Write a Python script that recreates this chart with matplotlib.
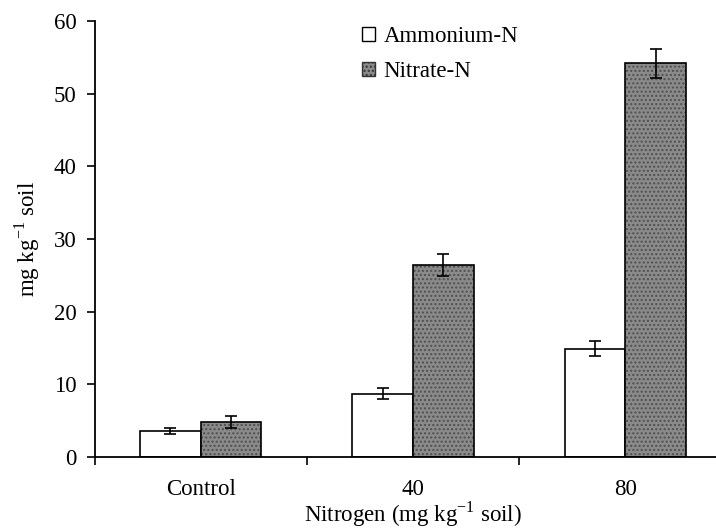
import numpy as np
import matplotlib
matplotlib.use('Agg')
import matplotlib.pyplot as plt
from matplotlib.patches import Patch

plt.rcParams['font.family'] = ['Liberation Serif', 'DejaVu Serif']
plt.rcParams['mathtext.fontset'] = 'custom'
plt.rcParams['mathtext.rm'] = 'Liberation Serif'

groups = ['Control', '40', '80']
ammonium = [3.6, 8.7, 14.9]
ammonium_err = [0.4, 0.75, 1.05]
nitrate = [4.8, 26.4, 54.2]
nitrate_err = [0.85, 1.5, 2.0]

fs = 16.5
fig = plt.figure(figsize=(7.16, 5.31), dpi=100)
ax = fig.add_axes([94.5/716, 74.2/531, 637/716, 435.8/531])

x = np.arange(len(groups))
w = 0.285
ax.bar(x - w/2, ammonium, w, color='white', edgecolor='black', linewidth=1.2, zorder=2)
ax.bar(x + w/2, nitrate, w, color='#8a8a8a', edgecolor='#505050', hatch='....', linewidth=0, zorder=2)
ax.bar(x + w/2, nitrate, w, fill=False, edgecolor='black', linewidth=1.2, zorder=3)
ax.errorbar(x - w/2, ammonium, yerr=ammonium_err, fmt='none', ecolor='black',
            elinewidth=1.2, capsize=4, capthick=1.2, zorder=4)
ax.errorbar(x + w/2, nitrate, yerr=nitrate_err, fmt='none', ecolor='black',
            elinewidth=1.2, capsize=4, capthick=1.2, zorder=4)

ax.set_xlim(-0.5, 2.5)
ax.set_ylim(0, 60)
ax.set_yticks(np.arange(0, 61, 10))
ax.set_xticks([-0.5, 0.5, 1.5])
ax.set_xticklabels([])
ax.set_xticks(x, minor=True)
ax.set_xticklabels(groups, minor=True)
ax.tick_params(axis='x', which='major', direction='out', length=6, width=1.2)
ax.tick_params(axis='x', which='minor', length=0, pad=16, labelsize=fs)
ax.tick_params(axis='y', direction='out', length=6, width=1.2, pad=7, labelsize=fs)

for s in ['top', 'right']:
    ax.spines[s].set_visible(False)
for s in ['left', 'bottom']:
    ax.spines[s].set_linewidth(1.3)

ax.set_ylabel('mg kg$^{\\mathregular{-1}}$ soil', fontsize=fs, labelpad=8)
ax.xaxis.set_label_coords((413 - 94.5)/637, -0.098)
ax.set_xlabel('Nitrogen (mg kg$^{\\mathregular{-1}}$ soil)', fontsize=fs)

handles = [Patch(facecolor='white', edgecolor='black', linewidth=1.0),
           Patch(facecolor='#8a8a8a', edgecolor='#333333', hatch='....', linewidth=1.0)]
fig.legend(handles, ['Ammonium-N', 'Nitrate-N'], loc='upper left',
           bbox_to_anchor=(362/716, 1 - 26/531), bbox_transform=fig.transFigure,
           frameon=False, fontsize=fs, handlelength=0.55, handleheight=0.55,
           handletextpad=0.4, labelspacing=0.62, borderpad=0, borderaxespad=0)

fig.savefig('out.png', dpi=100)
